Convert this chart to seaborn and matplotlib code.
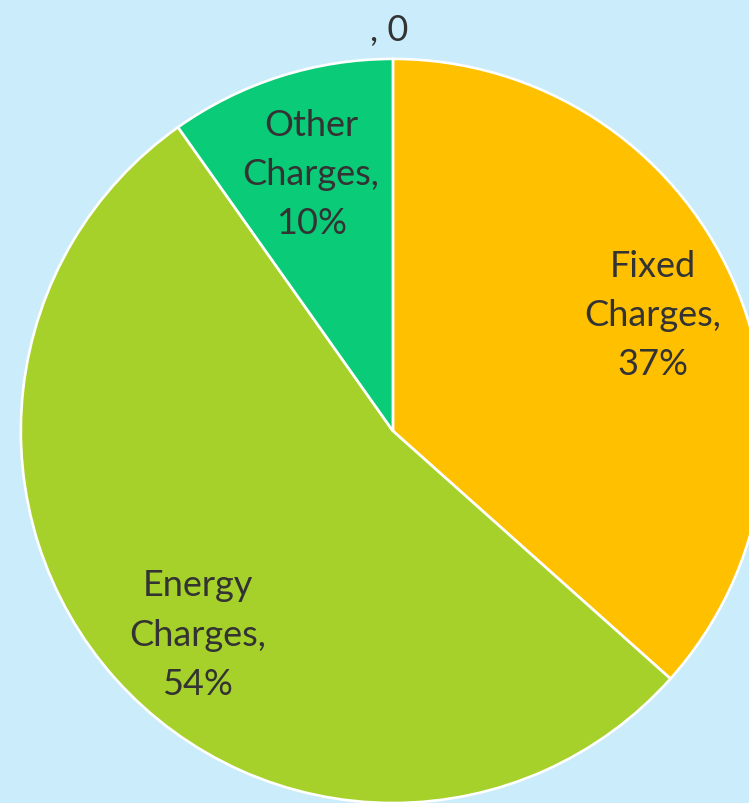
import numpy as np
import matplotlib
matplotlib.use("Agg")
import matplotlib.pyplot as plt
import seaborn as sns

# data (share of total bill)
categories = ["", "Fixed Charges", "Energy Charges", "Other Charges"]
values = [0, 36.6, 53.6, 9.8]
colors = ["#FFC000", "#FFC000", "#A6D12A", "#0ACB77"]

# where each data label sits: distance from centre, angle nudge (deg)
label_dist = [1.08, 0.765, 0.757, 0.726]
label_nudge = [0, 0, 4.4, 0]

sns.set_style("white")
plt.rcParams['font.family'] = ['Lato', 'DejaVu Sans']

bg = "#CAECFB"
fig = plt.figure(figsize=(7.49, 8.04), dpi=100, facecolor=bg)
ax = fig.add_axes([0, 0, 1, 1])
ax.set_facecolor(bg)

wedges, _ = ax.pie(values, colors=sns.color_palette(colors), startangle=90,
                   counterclock=False, radius=1,
                   wedgeprops=dict(edgecolor="white", linewidth=1.9))

total = sum(values)
for w, name, v, d, nud in zip(wedges, categories, values, label_dist, label_nudge):
    mid = np.deg2rad((w.theta1 + w.theta2) / 2 + nud)
    if v == 0:
        ax.text(d * np.cos(mid) - 0.01, d * np.sin(mid), ", 0",
                ha="center", va="center", fontsize=26, color="#333333")
        continue
    label = name.replace(" ", "\n") + ",\n" + f"{round(v / total * 100):.0f}%"
    ax.text(d * np.cos(mid), d * np.sin(mid), label, ha="center", va="center",
            fontsize=26, color="#333333", linespacing=1.6)

ax.set_xlim(-1.056, 0.957)
ax.set_ylim(-1.0, 1.161)
ax.set_aspect("auto")
ax.axis("off")

fig.savefig("out.png", dpi=100, facecolor=bg)
